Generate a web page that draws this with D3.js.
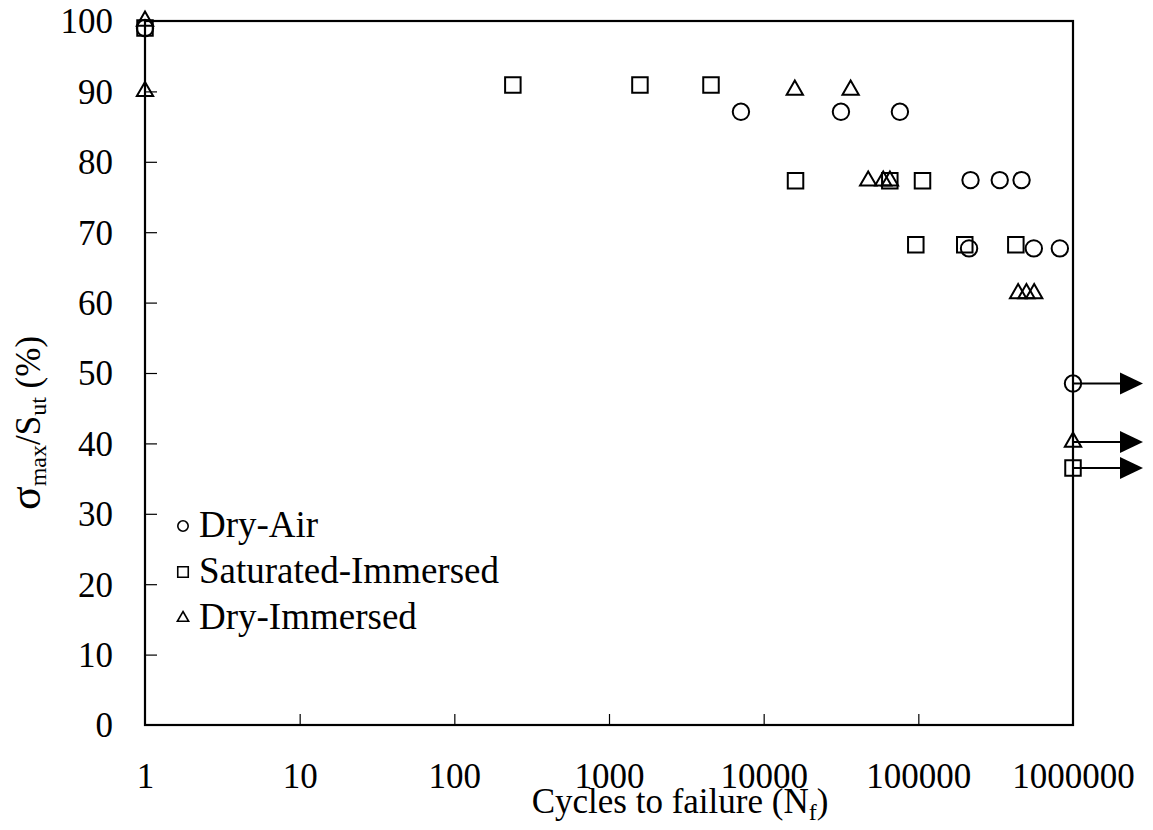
<!DOCTYPE html>
<html>
<head>
<meta charset="utf-8">
<script src="https://cdn.jsdelivr.net/npm/d3@7"></script>
<style>
  html, body { margin: 0; padding: 0; background: #fff; }
  svg { display: block; }
  text { font-family: "Liberation Serif", "Times New Roman", serif; fill: #000; }
</style>
</head>
<body>
<svg id="chart" width="1153" height="830"></svg>
<script>
// Fatigue results: cycles to failure vs. peak stress ratio (% of ultimate strength)
const xTicks = [1, 10, 100, 1000, 10000, 100000, 1000000];
const yTicks = [0, 10, 20, 30, 40, 50, 60, 70, 80, 90, 100];

// Dry-Air
const dryAirCycles = [1, 7130, 31600, 76000, 217500, 336000, 465000, 212800, 558000, 822000];
const dryAirStress = [99, 87.1, 87.1, 87.1, 77.4, 77.4, 77.4, 67.7, 67.7, 67.7];
// Saturated-Immersed
const satImmCycles = [1, 239, 1585, 4565, 16070, 65400, 106400, 96300, 199600, 427000];
const satImmStress = [99, 90.9, 90.9, 90.9, 77.3, 77.3, 77.3, 68.2, 68.2, 68.2];
// Dry-Immersed
const dryImmCycles = [1, 1, 15900, 36500, 47400, 59300, 65500, 441800, 500000, 561000];
const dryImmStress = [100, 90, 90.2, 90.2, 77.3, 77.3, 77.3, 61.3, 61.3, 61.3];

// Run-outs (specimens that did not fail at 10^6 cycles)
const runoutSeries = ["Dry-Air", "Dry-Immersed", "Saturated-Immersed"];
const runoutCycles = [1000000, 1000000, 1000000];
const runoutStress = [48.5, 40.2, 36.5];

const seriesNames = ["Dry-Air", "Saturated-Immersed", "Dry-Immersed"];
const seriesShapes = ["circle", "square", "triangle"];

const svg = d3.select("#chart");
const x = d3.scaleLog().domain([1, 1000000]).range([145, 1073]);
const y = d3.scaleLinear().domain([0, 100]).range([725, 21]);

const FONT = 35;

// Axis frame (box)
svg.append("rect")
  .attr("x", x.range()[0]).attr("y", y.range()[1])
  .attr("width", x.range()[1] - x.range()[0])
  .attr("height", y.range()[0] - y.range()[1])
  .attr("fill", "none").attr("stroke", "#000").attr("stroke-width", 2.2);

// Y tick labels
const yLab = svg.append("g").attr("transform", `translate(${x.range()[0]},0)`)
  .call(d3.axisLeft(y).tickValues(yTicks).tickSize(0).tickPadding(32).tickFormat(d3.format("d")));
yLab.select(".domain").remove();
yLab.selectAll("text").style("font-size", FONT + "px").attr("font-family", null).attr("dy", "0.34em");

// Y inner ticks
const yTk = svg.append("g").attr("transform", `translate(${x.range()[0]},0)`)
  .call(d3.axisLeft(y).tickValues(yTicks.slice(1, -1)).tickSize(-12).tickFormat(""));
yTk.select(".domain").remove();
yTk.selectAll("line").attr("stroke-width", 1.2);

// X tick labels
const xLab = svg.append("g").attr("transform", `translate(0,${y.range()[0]})`)
  .call(d3.axisBottom(x).tickValues(xTicks).tickSize(0).tickPadding(38).tickFormat(d3.format("d")));
xLab.select(".domain").remove();
xLab.selectAll("text").style("font-size", FONT + "px").attr("font-family", null);

// X inner ticks
const xTk = svg.append("g").attr("transform", `translate(0,${y.range()[0]})`)
  .call(d3.axisBottom(x).tickValues(xTicks.slice(1, -1)).tickSize(-11).tickFormat(""));
xTk.select(".domain").remove();
xTk.selectAll("line").attr("stroke-width", 1.2);

// Marker paths
const big = {
  circle: d3.symbol().type(d3.symbolCircle).size(Math.PI * 8.2 * 8.2)(),
  square: d3.symbol().type(d3.symbolSquare).size(15.5 * 15.5)(),
  triangle: d3.symbol().type(d3.symbolTriangle).size(115)()
};
const small = {
  circle: d3.symbol().type(d3.symbolCircle).size(Math.PI * 5.2 * 5.2)(),
  square: d3.symbol().type(d3.symbolSquare).size(10.5 * 10.5)(),
  triangle: d3.symbol().type(d3.symbolTriangle).size(55)()
};

const seriesData = [
  d3.zip(dryAirCycles, dryAirStress),
  d3.zip(satImmCycles, satImmStress),
  d3.zip(dryImmCycles, dryImmStress)
];

// Run-out arrows
const arrowLen = 47, headLen = 23, headHalf = 11;
runoutSeries.forEach((name, i) => {
  const px = x(runoutCycles[i]), py = y(runoutStress[i]);
  const g = svg.append("g");
  g.append("line").attr("x1", px).attr("y1", py).attr("x2", px + arrowLen).attr("y2", py)
    .attr("stroke", "#000").attr("stroke-width", 2);
  g.append("path")
    .attr("d", `M${px + arrowLen},${py - headHalf}L${px + arrowLen + headLen},${py}L${px + arrowLen},${py + headHalf}Z`)
    .attr("fill", "#000");
});

// Data markers
seriesData.forEach((pts, i) => {
  svg.append("g").selectAll("path").data(pts).join("path")
    .attr("d", big[seriesShapes[i]])
    .attr("transform", d => `translate(${x(d[0])},${y(d[1])})`)
    .attr("fill", "none").attr("stroke", "#000").attr("stroke-width", 2);
});
runoutSeries.forEach((name, i) => {
  const shape = seriesShapes[seriesNames.indexOf(name)];
  svg.append("path").attr("d", big[shape])
    .attr("transform", `translate(${x(runoutCycles[i])},${y(runoutStress[i])})`)
    .attr("fill", "none").attr("stroke", "#000").attr("stroke-width", 2);
});

// Legend
const legend = svg.append("g").attr("transform", "translate(183,537)");
seriesNames.forEach((name, i) => {
  const row = legend.append("g").attr("transform", `translate(0,${i * 46})`);
  row.append("path").attr("d", small[seriesShapes[i]])
    .attr("transform", "translate(0,-11)")
    .attr("fill", "none").attr("stroke", "#000").attr("stroke-width", 1.6);
  row.append("text").attr("x", 16).attr("y", 0)
    .style("font-size", "37px").text(name);
});

// X axis title
const xt = svg.append("text").attr("x", 680).attr("y", 813)
  .attr("text-anchor", "middle").style("font-size", FONT + "px");
xt.append("tspan").text("Cycles to failure (N");
xt.append("tspan").attr("dy", 7).style("font-size", "24px").text("f");
xt.append("tspan").attr("dy", -7).text(")");

// Y axis title
const yt = svg.append("text").attr("transform", "translate(40,423) rotate(-90)")
  .attr("text-anchor", "middle").style("font-size", FONT + "px");
yt.append("tspan").style("font-size", "44px").text("σ");
yt.append("tspan").attr("dy", 6).style("font-size", "24px").text("max");
yt.append("tspan").attr("dy", -6).text("/S");
yt.append("tspan").attr("dy", 6).style("font-size", "24px").text("ut");
yt.append("tspan").attr("dy", -6).text(" (%)");
</script>
</body>
</html>
